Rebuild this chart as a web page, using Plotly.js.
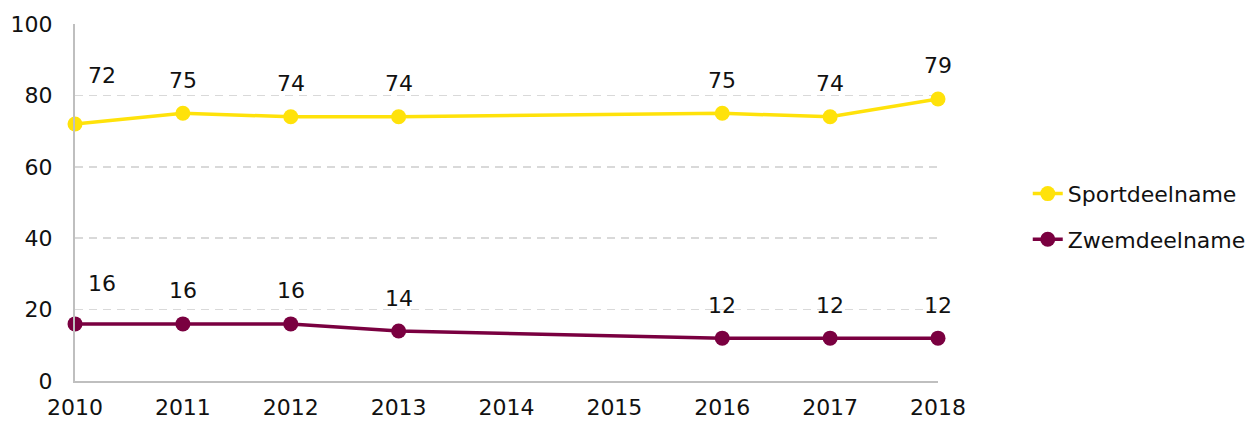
<!DOCTYPE html>
<html><head><meta charset="utf-8">
<script src="https://cdn.plot.ly/plotly-3.0.1.min.js"></script>
<style>html,body{margin:0;padding:0;background:#fff}#c{width:1257px;height:421px}</style>
</head><body><div id="c"></div>
<script>
const years = [2010, 2011, 2012, 2013, 2016, 2017, 2018];
const sport = [72, 75, 74, 74, 75, 74, 79];
const zwem = [16, 16, 16, 14, 12, 12, 12];
const xTicks = [2010, 2011, 2012, 2013, 2014, 2015, 2016, 2017, 2018];
const yTicks = [0, 20, 40, 60, 80, 100];
const names = ['Sportdeelname', 'Zwemdeelname'];
const colors = ['#FFE20A', '#7A0040'];

const font = {family: 'DejaVu Sans, sans-serif', size: 22, color: '#111'};
const traces = [sport, zwem].map((v, i) => ({
  x: years, y: v, name: names[i], legendgroup: 'g' + i, type: 'scatter', mode: 'lines+markers',
  line: {color: colors[i], width: 3.5}, marker: {color: colors[i], size: 15},
  cliponaxis: false, hoverinfo: 'none'
}));
const ann = [];
[sport, zwem].forEach((v, i) => {
  v.forEach((y, j) => {
    const first = j === 0;
    ann.push({x: years[j], y: y, text: String(y), showarrow: false, xref: 'x', yref: 'y',
      xshift: first ? 27 : 0, yshift: first ? (i === 0 ? 48 : 40) : 33,
      font: font});
  });
});
const layout = {
  width: 1257, height: 421,
  margin: {l: 75, r: 319, t: 24, b: 40, autoexpand: false},
  paper_bgcolor: '#fff', plot_bgcolor: '#fff',
  font: font,
  showlegend: true,
  legend: {x: 1.104, y: 0.46, xanchor: 'left', yanchor: 'middle', font: font, traceorder: 'grouped', tracegroupgap: 14},
  xaxis: {range: [2010, 2018], tickvals: xTicks, ticktext: xTicks.map(String), showgrid: false,
    showline: true, linecolor: '#bfbfbf', linewidth: 2, zeroline: false, ticks: '', ticklabelstandoff: 6,
    tickfont: font},
  yaxis: {range: [0, 100], tickvals: yTicks, showgrid: true, gridcolor: '#d9d9d9', griddash: '8px,6px', gridwidth: 1.5,
    showline: true, linecolor: '#bfbfbf', linewidth: 2, zeroline: false, ticks: '', ticklabelstandoff: 16,
    tickfont: font},
  annotations: ann
};
Plotly.newPlot('c', traces, layout, {staticPlot: true});
</script></body></html>
